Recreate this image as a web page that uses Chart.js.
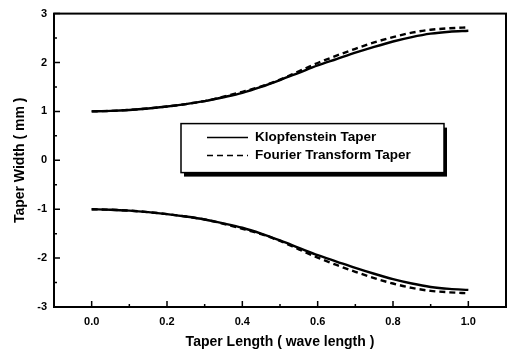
<!DOCTYPE html>
<html>
<head>
<meta charset="utf-8">
<script src="https://cdn.jsdelivr.net/npm/chart.js@4.4.1/dist/chart.umd.min.js"></script>
<style>
  html, body { margin: 0; padding: 0; background: #fff; }
  #wrap { width: 509px; height: 352px; }
</style>
</head>
<body>
<div id="wrap"><canvas id="chart"></canvas></div>
<script>
// Taper length positions (wave length)
const taperX = [0, 0.05, 0.1, 0.15, 0.2, 0.25, 0.3, 0.35, 0.4, 0.45, 0.5,
                0.55, 0.6, 0.65, 0.7, 0.75, 0.8, 0.85, 0.9, 0.95, 1.0];

// Taper width (mm)
const klopfUpper = [1.00, 1.01, 1.03, 1.06, 1.10, 1.15, 1.21, 1.29, 1.38, 1.50, 1.64,
                    1.79, 1.94, 2.07, 2.20, 2.32, 2.43, 2.52, 2.59, 2.63, 2.65];
const fourierUpper = [1.00, 1.01, 1.03, 1.06, 1.10, 1.15, 1.21, 1.30, 1.40, 1.51, 1.65,
                      1.82, 1.99, 2.14, 2.28, 2.41, 2.52, 2.61, 2.67, 2.70, 2.72];
const klopfLower = [-1.00, -1.01, -1.03, -1.06, -1.10, -1.15, -1.21, -1.29, -1.38, -1.50, -1.64,
                    -1.79, -1.94, -2.07, -2.20, -2.32, -2.43, -2.52, -2.59, -2.63, -2.65];
const fourierLower = [-1.00, -1.01, -1.03, -1.06, -1.10, -1.15, -1.21, -1.30, -1.40, -1.51, -1.65,
                      -1.82, -1.99, -2.14, -2.28, -2.41, -2.52, -2.61, -2.67, -2.70, -2.72];

const xTicks = [0, 0.2, 0.4, 0.6, 0.8, 1.0];
const yTicks = [-3, -2, -1, 0, 1, 2, 3];
const seriesNames = ['Klopfenstein Taper', 'Fourier Transform Taper'];

const FONT = '"Liberation Sans", Arial, sans-serif';

function toPoints(ys) {
  return taperX.map((x, i) => ({ x: x, y: ys[i] }));
}

function makeSet(label, ys, dashed) {
  return {
    label: label,
    data: toPoints(ys),
    borderColor: '#000',
    borderWidth: 2.4,
    borderDash: dashed ? [6, 4] : [],
    pointRadius: 0,
    cubicInterpolationMode: 'monotone',
    fill: false
  };
}

// box around the plot + inward ticks (major and minor)
const framePlugin = {
  id: 'frame',
  afterDatasetsDraw(chart) {
    const { ctx, chartArea: a, scales } = chart;
    ctx.save();
    ctx.strokeStyle = '#000';
    ctx.lineWidth = 2;
    ctx.strokeRect(a.left, a.top, a.right - a.left, a.bottom - a.top);

    ctx.lineWidth = 1.5;
    ctx.beginPath();
    for (let v = -0.1; v <= 1.1001; v += 0.1) {
      const px = scales.x.getPixelForValue(v);
      const major = Math.abs(Math.round(v * 10) % 2) === 0;
      const len = major ? 6 : 3;
      ctx.moveTo(px, a.bottom);
      ctx.lineTo(px, a.bottom - len);
    }
    for (let v = -3; v <= 3.001; v += 0.5) {
      const py = scales.y.getPixelForValue(v);
      const major = Math.abs(v % 1) < 0.01;
      const len = major ? 6 : 3;
      ctx.moveTo(a.left, py);
      ctx.lineTo(a.left + len, py);
    }
    ctx.stroke();
    ctx.restore();
  }
};

// framed legend with a drop shadow, like the original
const boxLegend = {
  id: 'boxLegend',
  afterDraw(chart) {
    const { ctx, chartArea: a } = chart;
    const x = a.left + 127, y = a.top + 110, w = 263, h = 49;
    ctx.save();
    ctx.fillStyle = '#000';
    ctx.fillRect(x + 3, y + 4, w, h);
    ctx.fillStyle = '#fff';
    ctx.fillRect(x, y, w, h);
    ctx.strokeStyle = '#000';
    ctx.lineWidth = 1.5;
    ctx.strokeRect(x, y, w, h);

    ctx.font = 'bold 13.5px ' + FONT;
    ctx.textBaseline = 'middle';
    ctx.fillStyle = '#000';
    chart.data.datasets.slice(0, 2).forEach((ds, i) => {
      const rowY = y + 14 + i * 18;
      ctx.beginPath();
      ctx.lineWidth = 1.5;
      ctx.setLineDash(ds.borderDash);
      ctx.moveTo(x + 26, rowY);
      ctx.lineTo(x + 67, rowY);
      ctx.stroke();
      ctx.setLineDash([]);
      ctx.fillText(ds.label, x + 74, rowY);
    });
    ctx.restore();
  }
};

new Chart(document.getElementById('chart'), {
  type: 'line',
  data: {
    datasets: [
      makeSet(seriesNames[0], klopfUpper, false),
      makeSet(seriesNames[1], fourierUpper, true),
      makeSet(seriesNames[0], klopfLower, false),
      makeSet(seriesNames[1], fourierLower, true)
    ]
  },
  options: {
    responsive: true,
    maintainAspectRatio: false,
    animation: false,
    layout: { padding: { left: 0, top: 11, right: 3, bottom: 0 } },
    plugins: {
      legend: { display: false },
      tooltip: { enabled: false }
    },
    scales: {
      x: {
        type: 'linear',
        min: -0.1,
        max: 1.1,
        afterBuildTicks: s => { s.ticks = xTicks.map(v => ({ value: v })); },
        afterFit: s => { s.height = 45; },
        grid: { display: false, drawTicks: false },
        border: { display: false },
        ticks: {
          padding: 8,
          color: '#000',
          font: { family: FONT, size: 11, weight: 'bold' },
          callback: v => Number(v).toFixed(1)
        },
        title: {
          display: true,
          text: 'Taper Length ( wave length )',
          color: '#000',
          font: { family: FONT, size: 14, weight: 'bold' },
          padding: { top: 0, bottom: 1 }
        }
      },
      y: {
        type: 'linear',
        min: -3,
        max: 3,
        afterBuildTicks: s => { s.ticks = yTicks.map(v => ({ value: v })); },
        afterFit: s => { s.width = 54; },
        grid: { display: false, drawTicks: false },
        border: { display: false },
        ticks: {
          padding: 7,
          color: '#000',
          font: { family: FONT, size: 11, weight: 'bold' }
        },
        title: {
          display: true,
          text: 'Taper Width ( mm )',
          color: '#000',
          font: { family: FONT, size: 14, weight: 'bold' },
          padding: { top: 12, bottom: 0 }
        }
      }
    }
  },
  plugins: [framePlugin, boxLegend]
});
</script>
</body>
</html>
